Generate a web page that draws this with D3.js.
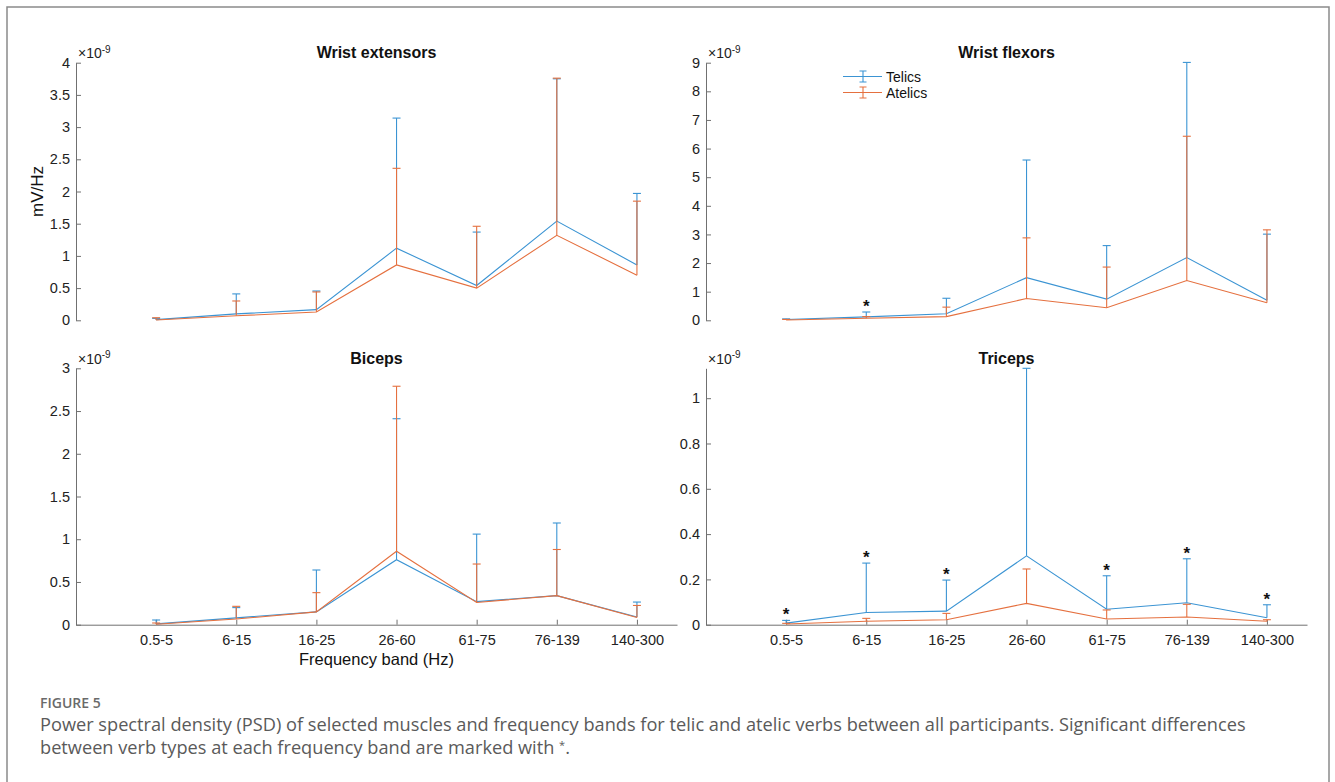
<!DOCTYPE html>
<html>
<head>
<meta charset="utf-8">
<script src="https://d3js.org/d3.v7.min.js"></script>
<style>
  body { margin: 0; background: #fff; }
  svg text { font-family: "Liberation Sans", Arial, sans-serif; }
</style>
</head>
<body>
<div id="figure"></div>
<script>
    // frequency bands on the x axis
    var bands = ["0.5-5", "6-15", "16-25", "26-60", "61-75", "76-139", "140-300"];
    var seriesNames = ["Telics", "Atelics"];

    // panel titles, y max and y ticks (units of 1e-9 mV/Hz)
    var muscles = ["Wrist extensors", "Wrist flexors", "Biceps", "Triceps"];
    var yMax = [4, 9, 3, 1.132];
    var extTicks = [0, 0.5, 1, 1.5, 2, 2.5, 3, 3.5, 4];
    var flexTicks = [0, 1, 2, 3, 4, 5, 6, 7, 8, 9];
    var bicTicks = [0, 0.5, 1, 1.5, 2, 2.5, 3];
    var triTicks = [0, 0.2, 0.4, 0.6, 0.8, 1];

    // Wrist extensors
    var extTelicMean = [0.01, 0.10, 0.165, 1.12, 0.54, 1.54, 0.86];
    var extTelicSD = [0.02, 0.31, 0.29, 2.02, 0.83, 2.21, 1.11];
    var extAtelicMean = [0.005, 0.07, 0.13, 0.86, 0.50, 1.32, 0.70];
    var extAtelicSD = [0.035, 0.23, 0.31, 1.50, 0.96, 2.44, 1.15];

    // Wrist flexors
    var flexTelicMean = [0.03, 0.12, 0.23, 1.49, 0.74, 2.19, 0.70];
    var flexTelicSD = [0.02, 0.17, 0.54, 4.11, 1.87, 6.82, 2.31];
    var flexAtelicMean = [0.01, 0.07, 0.13, 0.76, 0.44, 1.39, 0.61];
    var flexAtelicSD = [0.02, 0.06, 0.33, 2.12, 1.42, 5.04, 2.55];

    // Biceps
    var bicTelicMean = [0.01, 0.08, 0.15, 0.76, 0.27, 0.34, 0.09];
    var bicTelicSD = [0.045, 0.12, 0.49, 1.65, 0.79, 0.85, 0.175];
    var bicAtelicMean = [0.005, 0.066, 0.15, 0.86, 0.26, 0.34, 0.085];
    var bicAtelicSD = [0.015, 0.149, 0.225, 1.93, 0.45, 0.54, 0.14];

    // Triceps
    var triTelicMean = [0.007, 0.054, 0.060, 0.304, 0.068, 0.097, 0.031];
    var triTelicSD = [0.012, 0.218, 0.137, 0.828, 0.148, 0.194, 0.057];
    var triAtelicMean = [0.003, 0.015, 0.022, 0.094, 0.025, 0.034, 0.015];
    var triAtelicSD = [0.003, 0.013, 0.028, 0.152, 0.040, 0.056, 0.007];

    // significant bands (index into bands), marked with *
    var extStars = [];
    var flexStars = [1];
    var bicStars = [];
    var triStars = [0, 1, 2, 4, 5, 6];

    var panels = [
        { title: muscles[0], yMax: yMax[0], ticks: extTicks, telic: [extTelicMean, extTelicSD], atelic: [extAtelicMean, extAtelicSD], stars: extStars },
        { title: muscles[1], yMax: yMax[1], ticks: flexTicks, telic: [flexTelicMean, flexTelicSD], atelic: [flexAtelicMean, flexAtelicSD], stars: flexStars },
        { title: muscles[2], yMax: yMax[2], ticks: bicTicks, telic: [bicTelicMean, bicTelicSD], atelic: [bicAtelicMean, bicAtelicSD], stars: bicStars },
        { title: muscles[3], yMax: yMax[3], ticks: triTicks, telic: [triTelicMean, triTelicSD], atelic: [triAtelicMean, triAtelicSD], stars: triStars }
    ];

    var svgWidth = 1335;
    var svgHeight = 782;
    var telicColor = "#3b94d3";
    var atelicColor = "#e5703f";
    var axisColor = "#707070";

    // panel geometry
    var colLeft = [76, 706];
    var panelWidth = 601;
    var rowTop = [62.7, 368.3];
    var rowBottom = [320.3, 624.7];

    var svg = d3.select("#figure")
        .append("svg")
        .attr("width", svgWidth)
        .attr("height", svgHeight);

    // outer frame (bottom edge is cut off)
    svg.append("path")
        .attr("d", "M7,790 V7 H1329 V790")
        .attr("fill", "none")
        .attr("stroke", "#8a8a8a")
        .attr("stroke-width", 1.5);

    panels.forEach(function(p, i) {
        var col = i % 2;
        var row = Math.floor(i / 2);
        var left = colLeft[col];
        var top = rowTop[row];
        var bottom = rowBottom[row];

        var x = d3.scaleLinear().domain([0, 7.5]).range([left, left + panelWidth]);
        var y = d3.scaleLinear().domain([0, p.yMax]).range([bottom, top]);

        var g = svg.append("g");

        // y axis
        var yAxis = g.append("g")
            .attr("transform", `translate(${left},0)`)
            .call(d3.axisLeft(y).tickValues(p.ticks).tickSize(-5).tickSizeOuter(0)
                .tickPadding(6).tickFormat(d3.format("~g")));
        styleAxis(yAxis);

        // x axis only on the bottom row
        if (row === 1) {
            var xAxis = g.append("g")
                .attr("transform", `translate(0,${bottom})`)
                .call(d3.axisBottom(x).tickValues(d3.range(1, bands.length + 1)).tickSize(-5)
                    .tickSizeOuter(0).tickPadding(10).tickFormat(function(d) { return bands[d - 1]; }));
            styleAxis(xAxis);
        }

        // exponent label
        var expo = g.append("text")
            .attr("x", left + 2)
            .attr("y", top - 4.5)
            .attr("font-size", 14)
            .attr("fill", "#222");
        expo.append("tspan").text("\u00d710");
        expo.append("tspan").attr("dy", -5.5).attr("font-size", 10).text("-9");

        // title
        g.append("text")
            .attr("x", left + panelWidth / 2)
            .attr("y", top - 4.5)
            .attr("text-anchor", "middle")
            .attr("font-size", 16)
            .attr("font-weight", "bold")
            .attr("fill", "#111")
            .text(p.title);

        // series
        var line = d3.line()
            .x(function(d, j) { return x(j + 1); })
            .y(function(d) { return y(d); });

        [[p.telic, telicColor], [p.atelic, atelicColor]].forEach(function(s) {
            var mean = s[0][0];
            var sd = s[0][1];
            g.append("path")
                .datum(mean)
                .attr("d", line)
                .attr("fill", "none")
                .attr("stroke", s[1])
                .attr("stroke-width", 1.1);

            var bars = g.append("g")
                .attr("stroke", s[1])
                .attr("stroke-width", 1.1);
            mean.forEach(function(m, j) {
                var cx = x(j + 1);
                var yt = y(m + sd[j]);
                bars.append("line").attr("x1", cx).attr("x2", cx).attr("y1", y(m)).attr("y2", yt);
                bars.append("line").attr("x1", cx - 4).attr("x2", cx + 4).attr("y1", yt).attr("y2", yt);
            });
        });

        // significance stars above the telic bar
        p.stars.forEach(function(j) {
            var yt = y(p.telic[0][j] + p.telic[1][j]);
            g.append("text")
                .attr("x", x(j + 1))
                .attr("y", yt)
                .attr("text-anchor", "middle")
                .attr("font-size", 17)
                .attr("font-weight", "bold")
                .attr("fill", "#111")
                .text("*");
        });

        // legend in the wrist flexors panel
        if (i === 1) {
            var legend = g.append("g");
            [telicColor, atelicColor].forEach(function(c, k) {
                var ly = 76.5 + k * 16;
                legend.append("line").attr("x1", 843).attr("x2", 882).attr("y1", ly).attr("y2", ly)
                    .attr("stroke", c).attr("stroke-width", 1.1);
                legend.append("path")
                    .attr("d", `M859.5,${ly - 5.5}H866.5M863,${ly - 5.5}V${ly + 5.5}M859.5,${ly + 5.5}H866.5`)
                    .attr("fill", "none").attr("stroke", c).attr("stroke-width", 1.1);
                legend.append("text")
                    .attr("x", 886)
                    .attr("y", ly + 5)
                    .attr("font-size", 14)
                    .attr("fill", "#111")
                    .text(seriesNames[k]);
            });
        }
    });

    // axis titles
    svg.append("text")
        .attr("transform", "translate(43,191.5) rotate(-90)")
        .attr("text-anchor", "middle")
        .attr("font-size", 17)
        .attr("fill", "#111")
        .text("mV/Hz");

    svg.append("text")
        .attr("x", colLeft[0] + panelWidth / 2)
        .attr("y", 665)
        .attr("text-anchor", "middle")
        .attr("font-size", 16.5)
        .attr("fill", "#111")
        .text("Frequency band (Hz)");

    // caption
    var caption = svg.append("g")
        .attr("fill", "#5a5a5a");

    caption.append("text")
        .attr("x", 40)
        .attr("y", 708)
        .attr("font-size", 14)
        .attr("font-weight", 600)
        .attr("fill", "#6a6a6a")
        .style("font-family", "'Open Sans', sans-serif")
        .text("FIGURE 5");

    caption.append("text")
        .attr("x", 40)
        .attr("y", 731)
        .attr("font-size", 18.2)
        .style("font-family", "'Open Sans', sans-serif")
        .text("Power spectral density (PSD) of selected muscles and frequency bands for telic and atelic verbs between all participants. Significant differences");

    var cap2 = caption.append("text")
        .attr("x", 40)
        .attr("y", 754)
        .attr("font-size", 18.2)
        .style("font-family", "'Open Sans', sans-serif");
    cap2.append("tspan").text("between verb types at each frequency band are marked with ");
    cap2.append("tspan").attr("dy", -5).attr("font-size", 11).text("*");
    cap2.append("tspan").attr("dy", 5).text(".");

    function styleAxis(a) {
        a.select(".domain").attr("stroke", axisColor);
        a.selectAll(".tick line").attr("stroke", axisColor);
        a.selectAll(".tick text")
            .attr("font-size", 14.5)
            .attr("fill", "#222")
            .style("font-family", "'Liberation Sans', Arial, sans-serif");
    }
</script>
</body>
</html>
